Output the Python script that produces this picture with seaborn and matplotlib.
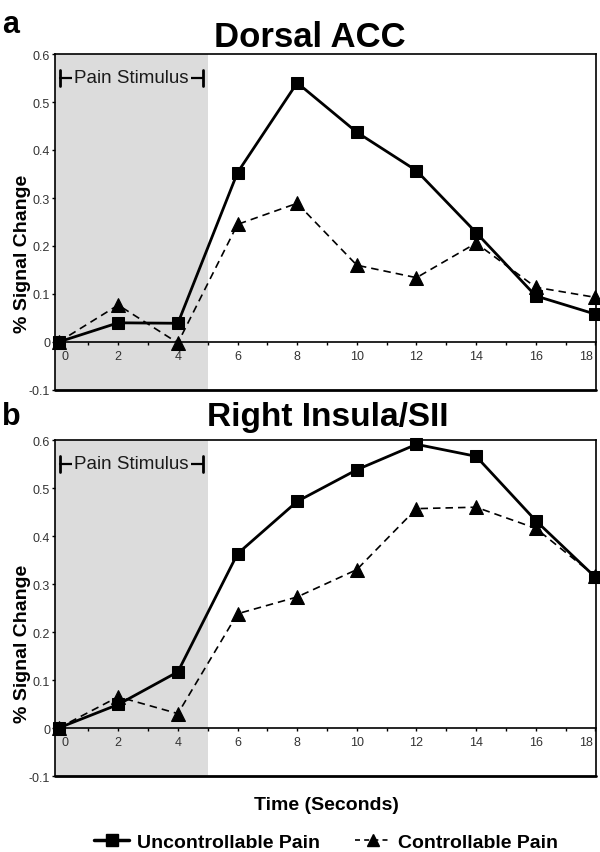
import numpy as np
import pandas as pd
import matplotlib
matplotlib.use("Agg")
import matplotlib.pyplot as plt
import matplotlib.transforms as mtransforms
from matplotlib.lines import Line2D
import seaborn as sns

# ---------------- data ----------------
time = [0, 2, 4, 6, 8, 10, 12, 14, 16, 18]
acc_uncontrollable = [0.0, 0.040, 0.039, 0.353, 0.540, 0.437, 0.357, 0.228, 0.096, 0.058]
acc_controllable   = [0.0, 0.077, -0.002, 0.245, 0.289, 0.160, 0.134, 0.206, 0.114, 0.093]
ins_uncontrollable = [0.0, 0.049, 0.117, 0.363, 0.472, 0.538, 0.591, 0.566, 0.432, 0.314]
ins_controllable   = [0.0, 0.065, 0.030, 0.238, 0.273, 0.330, 0.457, 0.460, 0.416, 0.316]
panel_titles = ["Dorsal ACC", "Right Insula/SII"]
panel_letters = ["a", "b"]
series_names = ["Uncontrollable Pain", "Controllable Pain"]
y_ticks = [-0.1, 0.0, 0.1, 0.2, 0.3, 0.4, 0.5, 0.6]
y_tick_labels = ["-0.1", "0", "0.1", "0.2", "0.3", "0.4", "0.5", "0.6"]
x_tick_labels = ["0", "2", "4", "6", "8", "10", "12", "14", "16", "18"]
stim_end = 5

sns.set_style("white")
plt.rcParams["font.family"] = ["Liberation Sans", "DejaVu Sans"]
plt.rcParams["text.color"] = "black"

W, H = 600, 853
fig = plt.figure(figsize=(W / 100, H / 100), dpi=100)

shade = "#dcdcdc"
tick_col = "#333333"

panels = [
    (acc_uncontrollable, acc_controllable, 391),
    (ins_uncontrollable, ins_controllable, 777),
]
title_left = [214, 207]
title_base = [47, 426]
title_size = [25, 24]
letter_base = [33, 425]
ylabel_center = [254, 644]

for i, (unc, con, bottom_px) in enumerate(panels):
    ax = fig.add_axes([55 / W, 1 - bottom_px / H, 541 / W, 336 / H])
    xlim = (-0.12, 18.02)
    ax.set_xlim(*xlim)
    ax.set_ylim(-0.1, 0.6)
    ax.axvspan(xlim[0], stim_end, color=shade, zorder=0, lw=0)

    df = pd.DataFrame({"t": time, "unc": unc, "con": con})
    sns.lineplot(data=df, x="t", y="con", ax=ax, color="black", marker="^",
                 markersize=9.5, markeredgecolor="black", linewidth=1.2,
                 linestyle=(0, (4.5, 3)), zorder=3, clip_on=False)
    sns.lineplot(data=df, x="t", y="unc", ax=ax, color="black", marker="s",
                 markersize=8.5, markeredgecolor="black", linewidth=2.0,
                 zorder=4, clip_on=False)

    # spines
    for s in ["left", "right", "top", "bottom"]:
        ax.spines[s].set_visible(True)
        ax.spines[s].set_color("black")
        ax.spines[s].set_linewidth(1.2)
    ax.spines["bottom"].set_position(("data", 0))
    ax.plot([0, 1], [0, 0], transform=ax.transAxes, color="black", lw=2.0,
            clip_on=False, zorder=5)

    ax.set_xticks(np.arange(0, 19, 1))
    ax.set_xticklabels([x_tick_labels[k // 2] if k % 2 == 0 else "" for k in range(19)])
    ax.set_yticks(y_ticks)
    ax.set_yticklabels(y_tick_labels)
    ax.tick_params(axis="x", direction="out", length=2.5, width=1, color="black",
                   labelsize=9, labelcolor=tick_col, pad=3, bottom=True)
    ax.tick_params(axis="y", direction="out", length=2.5, width=1, color="black",
                   labelsize=9, labelcolor=tick_col, pad=1, left=True)
    labels = ax.get_xticklabels()
    lab0 = labels[0]
    lab0.set_transform(lab0.get_transform() +
                       mtransforms.ScaledTranslation(6 / 100, 0, fig.dpi_scale_trans))
    labN = labels[-1]
    labN.set_horizontalalignment("right")
    labN.set_transform(labN.get_transform() +
                       mtransforms.ScaledTranslation(-2 / 100, 0, fig.dpi_scale_trans))
    ax.set_xlabel("")
    ax.set_ylabel("")

    # Pain stimulus bracket
    yb = 0.55
    ax.plot([0.05, 4.85], [yb, yb], color="black", lw=1.6, zorder=2)
    ax.plot([0.05, 0.05], [yb - 0.017, yb + 0.017], color="black", lw=2.0, zorder=2)
    ax.plot([4.85, 4.85], [yb - 0.017, yb + 0.017], color="black", lw=2.0, zorder=2)
    ax.text(2.45, yb, "Pain Stimulus", ha="center", va="center", fontsize=13.5,
            color="#1a1a1a", zorder=3,
            bbox=dict(facecolor=shade, edgecolor="none", pad=1.5))

    fig.text(title_left[i] / W, 1 - title_base[i] / H, panel_titles[i],
             ha="left", va="baseline", fontsize=title_size[i], fontweight="bold")
    fig.text(2 / W, 1 - letter_base[i] / H, panel_letters[i],
             ha="left", va="baseline", fontsize=22, fontweight="bold")
    fig.text(23 / W, 1 - ylabel_center[i] / H, "% Signal Change", rotation=90,
             ha="center", va="center", fontsize=14, fontweight="bold")

fig.text(326 / W, 1 - 806 / H, "Time (Seconds)", ha="center", va="center",
         fontsize=14, fontweight="bold")

handles = [
    Line2D([], [], color="black", lw=2.5, marker="s", markersize=8),
    Line2D([], [], color="black", lw=1.2, linestyle=(0, (3, 2.5)), marker="^", markersize=9),
]
fig.legend(handles, series_names, loc="center", bbox_to_anchor=(326 / W, 1 - 843 / H),
           ncol=2, frameon=False, handlelength=1.8, handletextpad=0.4,
           columnspacing=1.8, prop={"weight": "bold", "size": 14})

fig.savefig("out.png", dpi=100)
